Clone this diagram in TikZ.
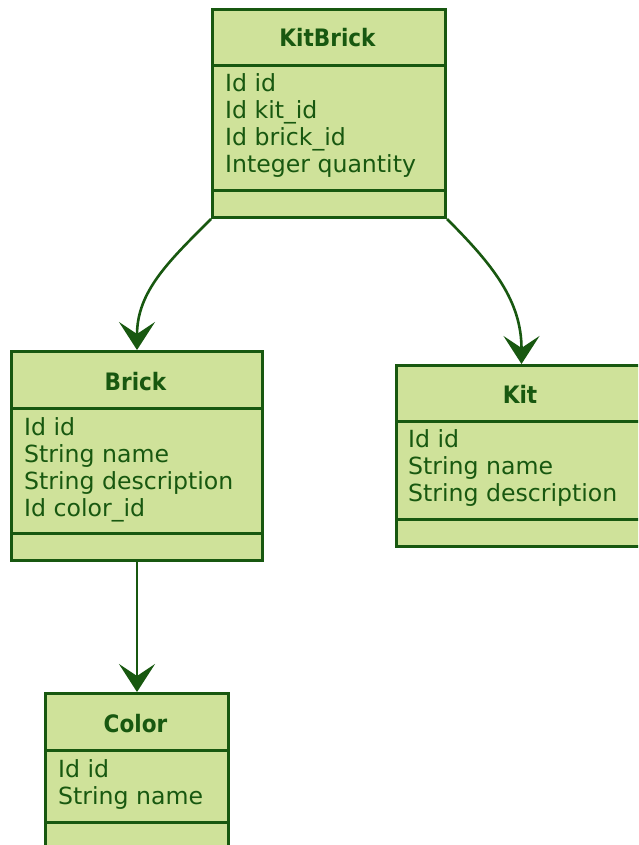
\documentclass[tikz,border=0pt]{standalone}
\usepackage{fontspec}
\setmainfont{DejaVu Sans}
\newfontfamily\titlefont{DejaVu Sans Condensed}
\usetikzlibrary{arrows.meta}
\definecolor{umlfill}{RGB}{207,226,154}
\definecolor{umlline}{RGB}{24,88,16}
\begin{document}
\begin{tikzpicture}[x=1pt,y=-1pt,
  classbox/.style={draw=umlline, fill=umlfill, line width=3pt, rectangle, inner sep=0pt, anchor=north west},
  sepline/.style={draw=umlline, line width=3pt},
  ctitle/.style={anchor=base, inner sep=0pt, text=umlline, font=\titlefont\fontsize{24}{27}\selectfont\bfseries},
  attr/.style={anchor=base west, inner sep=0pt, text=umlline, font=\fontsize{23.6}{27}\selectfont},
  link/.style={draw=umlline, line width=2.6pt, -{Stealth[length=28pt,width=36pt,inset=12pt]}}
]
\useasboundingbox (0,0) rectangle (638,845);
\clip (0,0) rectangle (638,845);
% KitBrick
\node[classbox, minimum width=233pt, minimum height=208pt] (kb) at (211,8) {};
\draw[sepline] ([yshift=-58pt]kb.north west) -- ([yshift=-58pt]kb.north east);
\draw[sepline] ([yshift=-182pt]kb.north west) -- ([yshift=-182pt]kb.north east);
\node[ctitle] (kbt) at (327.5,47) {KitBrick};
\node[attr] (kb1) at (225,92) {Id id};
\node[attr] (kb2) at (225,119) {Id kit\_id};
\node[attr] (kb3) at (225,146) {Id brick\_id};
\node[attr] (kb4) at (225,173) {Integer quantity};
% Brick
\node[classbox, minimum width=251pt, minimum height=209pt] (brick) at (10,350) {};
\draw[sepline] ([yshift=-58pt]brick.north west) -- ([yshift=-58pt]brick.north east);
\draw[sepline] ([yshift=-183pt]brick.north west) -- ([yshift=-183pt]brick.north east);
\node[ctitle] (brt) at (135.5,390) {Brick};
\node[attr] (br1) at (24,435) {Id id};
\node[attr] (br2) at (24,462) {String name};
\node[attr] (br3) at (24,489) {String description};
\node[attr] (br4) at (24,516) {Id color\_id};
% Kit
\node[classbox, minimum width=250pt, minimum height=181pt] (kit) at (395,364) {};
\draw[sepline] ([yshift=-57pt]kit.north west) -- ([yshift=-57pt]kit.north east);
\draw[sepline] ([yshift=-155pt]kit.north west) -- ([yshift=-155pt]kit.north east);
\node[ctitle] (kitt) at (520,403) {Kit};
\node[attr] (kt1) at (408,447) {Id id};
\node[attr] (kt2) at (408,474) {String name};
\node[attr] (kt3) at (408,501) {String description};
% Color
\node[classbox, minimum width=183pt, minimum height=160pt] (color) at (44,692) {};
\draw[sepline] ([yshift=-58pt]color.north west) -- ([yshift=-58pt]color.north east);
\draw[sepline] ([yshift=-130pt]color.north west) -- ([yshift=-130pt]color.north east);
\node[ctitle] (colt) at (135.5,732) {Color};
\node[attr] (co1) at (58,777) {Id id};
\node[attr] (co2) at (58,804) {String name};
% links
\draw[link] (kb.south west) to[out=-135,in=90] (brick.north);
\draw[link] (kb.south east) to[out=-45,in=90] (kit.north);
\draw[link] (brick.south) -- (color.north);
\end{tikzpicture}
\end{document}
